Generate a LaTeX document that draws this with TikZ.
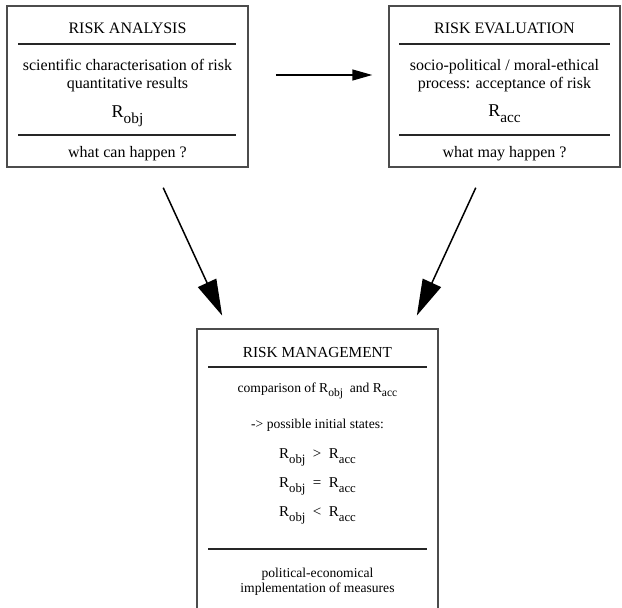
\documentclass[tikz,border=0pt]{standalone}
\usepackage{fontspec}
\setmainfont{Liberation Serif}
\usetikzlibrary{arrows.meta}
\newcommand{\Rsub}[1]{R\raisebox{-0.35em}{\scalebox{0.85}{#1}}}

\begin{document}
\begin{tikzpicture}[x=1pt,y=-1pt,
    box/.style={draw=black!70, line width=1.5pt, minimum width=241pt, inner sep=0pt},
    rule/.style={draw=black!85, line width=1.4pt},
    txt/.style={anchor=base, inner sep=0pt, font=\fontsize{16}{18}\selectfont},
    big/.style={anchor=base, inner sep=0pt, font=\fontsize{18}{20}\selectfont},
    head/.style={anchor=base, inner sep=0pt, font=\fontsize{15.3}{17}\selectfont},
    small/.style={anchor=base, inner sep=0pt, font=\fontsize{13.6}{15}\selectfont},
    rel/.style={anchor=base, inner sep=0pt, font=\fontsize{15}{17}\selectfont},
    flow/.style={line width=1.5pt, -{Triangle[length=20pt,width=11pt]}},
    bigflow/.style={line width=1.5pt, -{Triangle[length=36pt,width=20pt]}}]
        \useasboundingbox (0,0) rectangle (622,608);
        \clip (0,0) rectangle (622,608);

        \node [box, minimum height=161pt] (analysis) at (127.5,86.5) {};
        \node [box, minimum width=231pt, minimum height=161pt] (evaluation) at (504.5,86.5) {};
        \node [box, minimum height=311pt] (management) at (317.5,484.5) {};

        \node [txt] (an-title) at (127.5,33) {RISK ANALYSIS};
        \draw [rule] (18,44) -- (236,44);
        \node [txt] (an-line1) at (127.5,70) {scientific characterisation of risk};
        \node [txt] (an-line2) at (127.5,88) {quantitative results};
        \node [big] (an-r) at (127.5,117) {\Rsub{obj}};
        \draw [rule] (18,135) -- (236,135);
        \node [txt] (an-foot) at (127.5,157) {what can happen ?};

        \node [txt] (ev-title) at (504.5,33) {RISK EVALUATION};
        \draw [rule] (399,44) -- (610,44);
        \node [txt] (ev-line1) at (504.5,70) {socio-political / moral-ethical};
        \node [txt] (ev-line2) at (504.5,88) {process: acceptance of risk};
        \node [big] (ev-r) at (504.5,116) {\Rsub{acc}};
        \draw [rule] (399,135) -- (610,135);
        \node [txt] (ev-foot) at (504.5,157) {what may happen ?};

        \node [head] (ma-title) at (317.5,357) {RISK MANAGEMENT};
        \draw [rule] (208,367) -- (427,367);
        \node [small] (ma-comp) at (317.5,392) {comparison of \Rsub{obj}~ and \Rsub{acc}};
        \node [small] (ma-states) at (317.5,428) {-> possible initial states:};
        \node [rel] (ma-gt) at (317.5,458) {\Rsub{obj}\enspace>\enspace\Rsub{acc}};
        \node [rel] (ma-eq) at (317.5,487) {\Rsub{obj}\enspace=\enspace\Rsub{acc}};
        \node [rel] (ma-lt) at (317.5,516) {\Rsub{obj}\enspace<\enspace\Rsub{acc}};
        \draw [rule] (208,549) -- (427,549);
        \node [small] (ma-line1) at (317.5,577) {political-economical};
        \node [small] (ma-line2) at (317.5,592.5) {implementation of measures};

        \draw [flow, shorten <=27pt, shorten >=16pt] (analysis.east |- 0,75) -- (evaluation.west |- 0,75);
        \draw [bigflow, shorten <=22pt, shorten >=14pt] (analysis.south -| 154,0) -- (management.north -| 228,0);
        \draw [bigflow, shorten <=22pt, shorten >=14pt] (evaluation.south -| 485,0) -- (management.north -| 411,0);
\end{tikzpicture}
\end{document}
